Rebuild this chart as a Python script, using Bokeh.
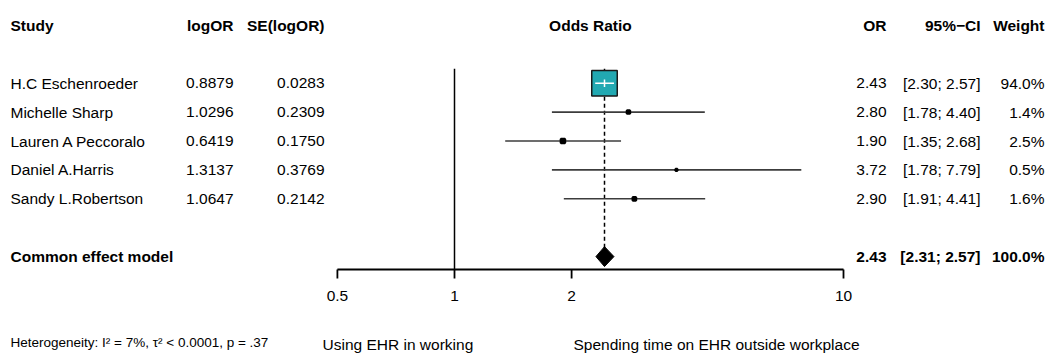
import numpy as np
from bokeh.plotting import figure
from bokeh.models import Range1d, ColumnDataSource
from bokeh.core.properties import value
from bokeh.embed import file_html
from bokeh.resources import INLINE

# ---------------- data ----------------
studies = ["H.C Eschenroeder", "Michelle Sharp", "Lauren A Peccoralo", "Daniel A.Harris", "Sandy L.Robertson"]
log_or = [0.8879, 1.0296, 0.6419, 1.3137, 1.0647]
se_log_or = [0.0283, 0.2309, 0.1750, 0.3769, 0.2142]
odds_ratio = [2.43, 2.80, 1.90, 3.72, 2.90]
ci_low = [2.30, 1.78, 1.35, 1.78, 1.91]
ci_high = [2.57, 4.40, 2.68, 7.79, 4.41]
weights = [94.0, 1.4, 2.5, 0.5, 1.6]

common_label = "Common effect model"
common_or = 2.43
common_low = 2.31
common_high = 2.57
common_weight = 100.0

headers = ["Study", "logOR", "SE(logOR)", "Odds Ratio", "OR", "95%\u2212CI", "Weight"]
tick_values = [0.5, 1, 2, 10]
tick_labels = ["0.5", "1", "2", "10"]
heterogeneity = "Heterogeneity: I\u00b2 = 7%, \u03c4\u00b2 < 0.0001, p = .37"
label_left = "Using EHR in working"
label_right = "Spending time on EHR outside workplace"

# ---------------- layout helpers ----------------
W, H = 1047, 354
OX, OY = 0, 0                     # page position of the canvas
X0, SCALE = 454.0, 389.0          # page x of OR = 1, pixels per decade
ROW0, ROWH = 24.9, 28.9           # page y of row 0, row height
FS = "15.5px"


def px(page_x):
    return (page_x - X0) / SCALE


def row(page_y):
    return (page_y - ROW0) / ROWH


FONT = value("Liberation Sans")

p = figure(width=W, height=H, output_backend="svg", toolbar_location=None,
           x_range=Range1d(px(OX), px(OX + W)), y_range=Range1d(row(OY + H), row(OY)),
           min_border=0, outline_line_color=None)
p.axis.visible = False
p.grid.visible = False
p.background_fill_color = "white"
p.border_fill_color = "white"

n = len(studies)
study_rows = [2 + i for i in range(n)]
common_row = study_rows[-1] + 2
xs_est = [np.log10(v) for v in odds_ratio]
xs_lo = [np.log10(v) for v in ci_low]
xs_hi = [np.log10(v) for v in ci_high]
c_est, c_lo, c_hi = np.log10(common_or), np.log10(common_low), np.log10(common_high)

axis_row = row(269)
tick_end = row(278)

# reference line at OR = 1
p.segment(x0=[0], y0=[study_rows[0] - 0.5], x1=[0], y1=[axis_row], line_color="black", line_width=1.5)
# common effect dashed line
p.segment(x0=[c_est], y0=[study_rows[0] - 0.5], x1=[c_est], y1=[common_row],
          line_color="black", line_width=1.5, line_dash="4 3")

# confidence intervals
p.segment(x0=xs_lo, y0=study_rows, x1=xs_hi, y1=study_rows, line_color="#3c3c3c", line_width=1.6)

# study squares
box_max = 25.5
sizes = [box_max * np.sqrt(w / max(weights)) for w in weights]
big = [s > (hi - lo) * SCALE for s, lo, hi in zip(sizes, xs_lo, xs_hi)]
src_big = ColumnDataSource(dict(x=[x for x, b in zip(xs_est, big) if b],
                                y=[r for r, b in zip(study_rows, big) if b],
                                s=[s for s, b in zip(sizes, big) if b]))
src_small = ColumnDataSource(dict(x=[x for x, b in zip(xs_est, big) if not b],
                                  y=[r for r, b in zip(study_rows, big) if not b],
                                  s=[s for s, b in zip(sizes, big) if not b]))
p.rect(x="x", y="y", width="s", height="s", width_units="screen", height_units="screen",
       source=src_big, fill_color="#22a9b2", line_color="#1a1a1a", line_width=1.5)
p.rect(x="x", y="y", width="s", height="s", width_units="screen", height_units="screen",
       source=src_small, fill_color="black", line_color="black", line_width=2.4)
# white CI inside big boxes
bx_lo = [lo for lo, b in zip(xs_lo, big) if b]
bx_hi = [hi for hi, b in zip(xs_hi, big) if b]
bx_est = [x for x, b in zip(xs_est, big) if b]
by = [r for r, b in zip(study_rows, big) if b]
p.segment(x0=bx_lo, y0=by, x1=bx_hi, y1=by, line_color="white", line_width=1.5)
p.segment(x0=bx_est, y0=[r - 0.13 for r in by], x1=bx_est, y1=[r + 0.13 for r in by],
          line_color="white", line_width=1.5)

# diamond
dh = 0.345
p.patch(x=[c_lo, c_est, c_hi, c_est], y=[common_row, common_row - dh, common_row, common_row + dh],
        fill_color="black", line_color="black", line_width=1)

# x axis (drawn manually so it spans only the plotting region)
t_x = [np.log10(t) for t in tick_values]
p.segment(x0=[min(t_x)], y0=[axis_row], x1=[max(t_x)], y1=[axis_row], line_color="black", line_width=1.8)
p.segment(x0=t_x, y0=[axis_row] * len(t_x), x1=t_x, y1=[tick_end] * len(t_x), line_color="black", line_width=1.8)
p.text(x=t_x, y=[row(295)] * len(t_x), text=tick_labels, text_align="center", text_baseline="middle",
       text_font=FONT, text_font_size=FS, text_color="black")

# headers
hdr_x = [px(10), px(233), px(324), (min(t_x) + max(t_x)) / 2, px(886), px(980), px(1044)]
hdr_align = ["left", "right", "right", "center", "right", "right", "right"]
p.text(x=hdr_x, y=[0] * len(headers), text=headers, text_align=hdr_align, text_baseline="middle",
       text_font=FONT, text_font_size=FS, text_font_style="bold", text_color="black")


def col(xpos, vals, align="right", bold=False, rows=study_rows):
    p.text(x=[xpos] * len(vals), y=rows, text=vals, text_align=align, text_baseline="middle",
           text_font=FONT, text_font_size=FS, text_color="black",
           text_font_style="bold" if bold else "normal")


col(px(10), studies, align="left")
col(px(233), [f"{v:.4f}" for v in log_or])
col(px(324), [f"{v:.4f}" for v in se_log_or])
col(px(886), [f"{v:.2f}" for v in odds_ratio])
col(px(980), [f"[{a:.2f}; {b:.2f}]" for a, b in zip(ci_low, ci_high)])
col(px(1044), [f"{w:.1f}%" for w in weights])

# common effect row
col(px(10), [common_label], align="left", bold=True, rows=[common_row])
col(px(886), [f"{common_or:.2f}"], bold=True, rows=[common_row])
col(px(980), [f"[{common_low:.2f}; {common_high:.2f}]"], bold=True, rows=[common_row])
col(px(1044), [f"{common_weight:.1f}%"], bold=True, rows=[common_row])

# bottom texts
p.text(x=[px(10)], y=[row(342)], text=[heterogeneity], text_align="left", text_baseline="middle",
       text_font=FONT, text_font_size="13.5px", text_color="black")
p.text(x=[px(322), px(573)], y=[row(344)] * 2, text=[label_left, label_right], text_align="left",
       text_baseline="middle", text_font=FONT, text_font_size=FS, text_color="black")

open("out.html", "w").write(file_html(p, INLINE))
